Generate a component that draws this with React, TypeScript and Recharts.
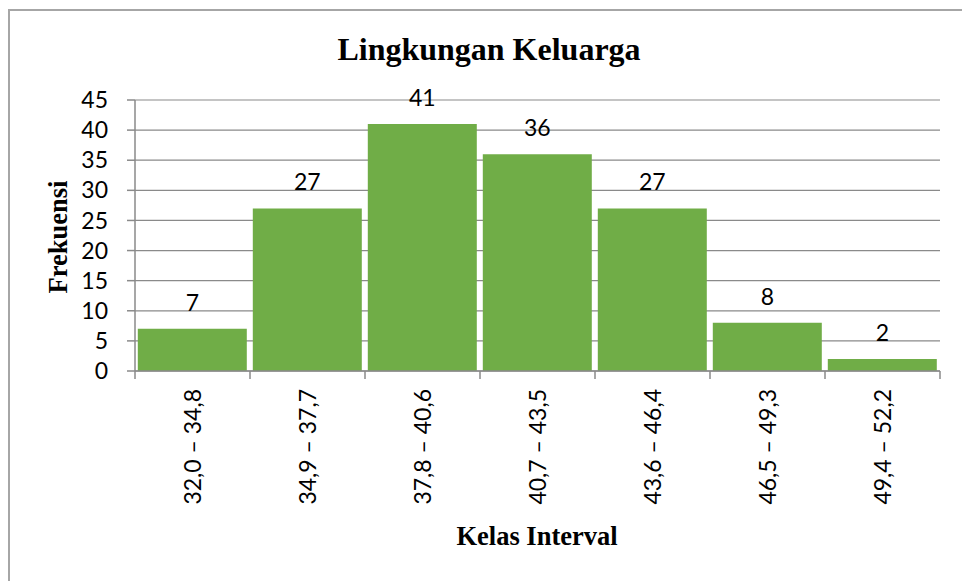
import React from 'react';
import { BarChart, Bar, XAxis, YAxis, CartesianGrid, LabelList } from 'recharts';

const categories = ['32,0 – 34,8', '34,9 – 37,7', '37,8 – 40,6', '40,7 – 43,5', '43,6 – 46,4', '46,5 – 49,3', '49,4 – 52,2'];
const frequencies = [7, 27, 41, 36, 27, 8, 2];
const yTicks = [0, 5, 10, 15, 20, 25, 30, 35, 40, 45];
const chartTitle = 'Lingkungan Keluarga';
const xTitle = 'Kelas Interval';
const yTitle = 'Frekuensi';

const data = categories.map((c, i) => ({ kelas: c, frekuensi: frequencies[i] }));

const AXIS = '#8a8a8a';
const BAR = '#70AD47';
const FONT = 'Lato';
const SERIF = '"Liberation Serif", "Times New Roman", serif';

const XTick = (props: any) => {
  const { x, y, payload, index, visibleTicksCount } = props;
  const half = payload && typeof payload.offset === 'number' ? payload.offset : 57.5;
  const count = visibleTicksCount ?? categories.length;
  const last = index === count - 1;
  const tx = x + 8;
  const ty = y + 18;
  return (
    <g>
      <line x1={x - half} x2={x - half} y1={y} y2={y + 8} stroke={AXIS} strokeWidth={1.5} />
      {last && <line x1={x + half} x2={x + half} y1={y} y2={y + 8} stroke={AXIS} strokeWidth={1.5} />}
      <text x={tx} y={ty} transform={`rotate(-90 ${tx} ${ty})`} textAnchor="end" fill="#000" fontFamily={FONT} fontSize={23}>
        {payload.value}
      </text>
    </g>
  );
};

export default function App() {
  return (
    <div style={{ position: 'fixed', left: 0, top: 0, width: 962, height: 581, overflow: 'hidden', background: '#fff' }}>
      <div style={{ position: 'absolute', left: 8, top: 9, width: 960, height: 580, borderLeft: '2px solid #a6a6a6', borderTop: '2px solid #a6a6a6' }} />
      <div style={{ position: 'absolute', left: 0, top: 0 }}>
        <BarChart width={962} height={581} data={data} margin={{ top: 100, right: 22, left: 0, bottom: 0 }} barCategoryGap={2.8}>
          <CartesianGrid vertical={false} stroke={AXIS} strokeWidth={1.2} />
          <XAxis
            dataKey="kelas"
            height={210}
            axisLine={{ stroke: AXIS, strokeWidth: 1.5 }}
            tickLine={false}
            tickSize={0}
            tickMargin={0}
            interval={0}
            tick={<XTick />}
          />
          <YAxis
            width={135}
            domain={[0, 45]}
            ticks={yTicks}
            interval={0}
            axisLine={{ stroke: AXIS, strokeWidth: 1.5 }}
            tickLine={{ stroke: AXIS, strokeWidth: 1.5 }}
            tickSize={8}
            tickMargin={19}
            tick={{ fill: '#000', fontFamily: FONT, fontSize: 23 }}
          />
          <Bar dataKey="frekuensi" fill={BAR} isAnimationActive={false}>
            <LabelList dataKey="frekuensi" position="top" offset={18} fill="#000" fontFamily={FONT} fontSize={23} />
          </Bar>
        </BarChart>
      </div>
      <svg width={962} height={581} style={{ position: 'absolute', left: 0, top: 0, pointerEvents: 'none' }}>
        <text x={489} y={60} textAnchor="middle" fontFamily={SERIF} fontWeight="bold" fontSize={32} fill="#000">{chartTitle}</text>
        <text x={67} y={237} transform="rotate(-90 67 237)" textAnchor="middle" fontFamily={SERIF} fontWeight="bold" fontSize={26.5} fill="#000">{yTitle}</text>
        <text x={537} y={545} textAnchor="middle" fontFamily={SERIF} fontWeight="bold" fontSize={26.5} fill="#000">{xTitle}</text>
      </svg>
    </div>
  );
}
